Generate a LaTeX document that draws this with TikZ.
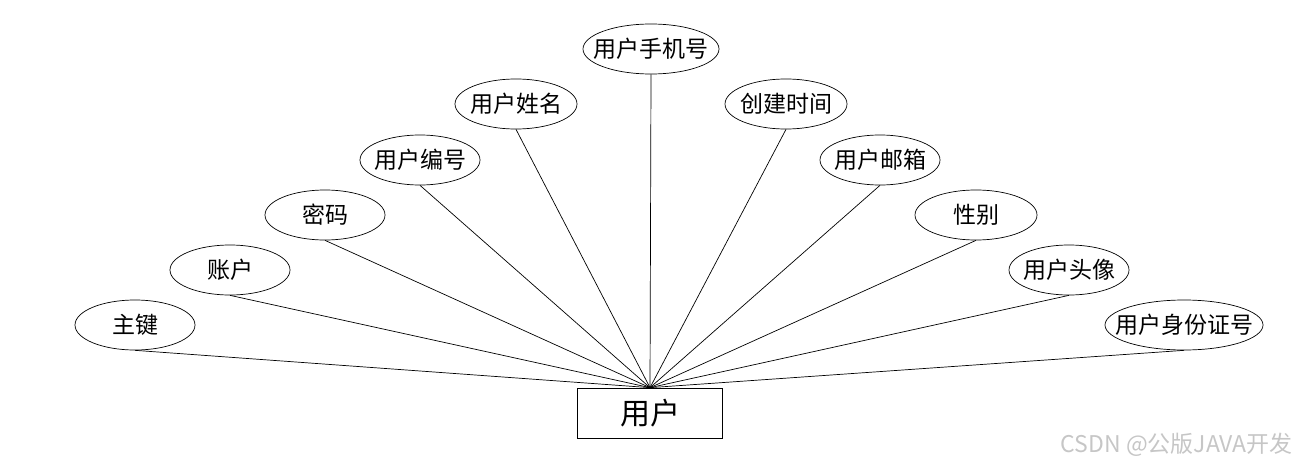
\documentclass[tikz,border=0pt]{standalone}
\usepackage{fontspec}
\setmainfont{Noto Sans CJK SC}
\usetikzlibrary{shapes.geometric}

\tikzset{
  attr/.style={draw, ellipse, minimum width=120pt, minimum height=50pt,
    inner sep=0pt, font=\fontsize{23}{23}\selectfont},
  entity/.style={draw, rectangle, minimum width=145pt, minimum height=50pt,
    inner sep=0pt, font=\fontsize{30}{30}\selectfont},
}

\begin{document}
\begin{tikzpicture}[x=1pt, y=-1pt, line width=0.7pt]
  \useasboundingbox (0,0) rectangle (1300,468);
  \node[entity] (yonghu) at (650,413) {用户};
  \foreach \cx/\cy/\w/\name/\txt in {
    135/325/120/zhujian/主键, 230/270/120/zhanghu/账户,
    325/215/120/mima/密码, 420/160/120/bianhao/用户编号,
    516/104/122/xingming/用户姓名, 651/49/136/shouji/用户手机号,
    786/104/122/chuangjian/创建时间, 880/160/120/youxiang/用户邮箱,
    976/215/122/xingbie/性别, 1069/270/120/touxiang/用户头像,
    1184/325/158/shenfen/用户身份证号}
  {
    \node[attr, minimum width=\w pt] (\name) at (\cx,\cy) {\makebox[0pt]{\txt}};
    \draw (\name.south) -- (yonghu.north);
  }
  \node[text=gray!45, font=\fontsize{23}{23}\selectfont, anchor=base east, inner sep=0pt]
    (mark) at (1293,452) {CSDN @公版JAVA开发};
\end{tikzpicture}
\end{document}
